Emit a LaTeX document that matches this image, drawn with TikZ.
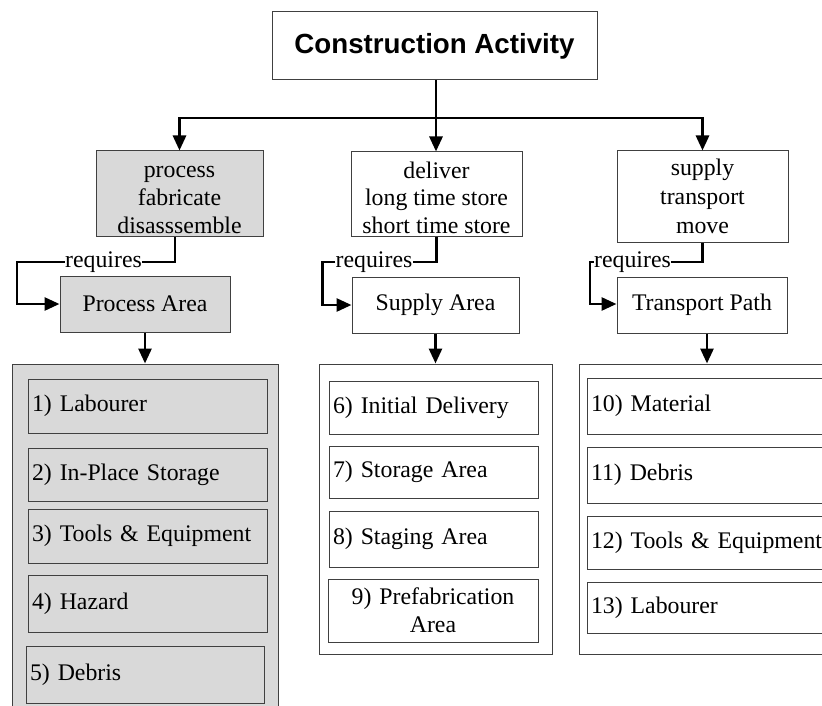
\documentclass[tikz,border=0pt]{standalone}
\usepackage{fontspec}
\setmainfont{Liberation Serif}
\newfontfamily\titlefont{Liberation Sans}
\usetikzlibrary{arrows.meta}
\definecolor{boxgray}{HTML}{D9D9D9}
\definecolor{edge}{HTML}{404040}
\begin{document}
\begin{tikzpicture}[x=1pt,y=-1pt,
  every node/.style={font=\fontsize{23.8}{27.8}\selectfont},
  box/.style={draw=edge, line width=1pt, inner sep=0pt, align=center},
  graybox/.style={box, fill=boxgray},
  itembox/.style={draw=edge, line width=1pt, inner xsep=4pt, inner ysep=0pt, align=left},
  citembox/.style={draw=edge, line width=1pt, inner xsep=4pt, inner ysep=0pt, align=center},
  conn/.style={line width=2.8pt, line join=miter},
  arr/.style={conn, -{Triangle[length=15pt,width=13pt]}},
  lbl/.style={fill=white, inner sep=0pt}]
\useasboundingbox (0,0) rectangle (822,706);
\clip (0,0) rectangle (822,706);

% title
\node[box, minimum width=325, minimum height=68, font=\titlefont\bfseries\fontsize{27.7}{30}\selectfont] (title) at (434.5,46) {Construction Activity};

% activity boxes
\node[graybox, minimum width=167, minimum height=85] (b1) at (179.5,193.5) {\rule{0pt}{24pt}process\\fabricate\\disasssemble};
\node[box, minimum width=171, minimum height=84] (b2) at (436.5,194) {\rule{0pt}{24pt}deliver\\long time store\\short time store};
\node[box, minimum width=171, minimum height=91] (b3) at (702.5,196.5) {supply\\[1.5pt]transport\\[1.5pt]move};

% area boxes
\node[graybox, minimum width=170, minimum height=56] (pa) at (145,304) {Process Area};
\node[box, minimum width=167, minimum height=56] (sa) at (435.5,305) {Supply Area};
\node[box, minimum width=170, minimum height=56] (tp) at (702,305) {Transport Path};

% requires labels
\node[lbl] (r1) at (103.5,262) {requires};
\node[lbl] (r2) at (374,262) {requires};
\node[lbl] (r3) at (632.5,262) {requires};

% containers
\node[draw=edge, line width=1pt, fill=boxgray, minimum width=266, minimum height=356, inner sep=0pt] (c1) at (145,542) {};
\node[draw=edge, line width=1pt, minimum width=233, minimum height=290, inner sep=0pt] (c2) at (435.5,509) {};
\node[draw=edge, line width=1pt, minimum width=266, minimum height=290, inner sep=0pt] (c3) at (712,509) {};

% items column 1
\node[itembox, text width=231, minimum height=54] (i1) at (147.5,406) {1) Labourer};
\node[itembox, text width=231, minimum height=53] (i2) at (147.5,474.5) {2) In-Place Storage};
\node[itembox, text width=231, minimum height=54] (i3) at (147.5,536) {3) Tools \& Equipment};
\node[itembox, text width=231, minimum height=57] (i4) at (147.5,603.5) {4) Hazard};
\node[itembox, text width=230, minimum height=57] (i5) at (145,674.5) {5) Debris};

% items column 2
\node[itembox, text width=201, minimum height=53] (i6) at (433.5,407.5) {6) Initial Delivery};
\node[itembox, text width=201, minimum height=52] (i7) at (433.5,472) {7) Storage Area};
\node[itembox, text width=201, minimum height=56] (i8) at (433.5,539) {8) Staging Area};
\node[citembox, text width=202, minimum height=63] (i9) at (433,610.5) {9) Prefabrication\\Area};

% items column 3
\node[itembox, text width=240, minimum height=56] (i10) at (711,406) {10) Material};
\node[itembox, text width=240, minimum height=56] (i11) at (711,475) {11) Debris};
\node[itembox, text width=240, minimum height=53] (i12) at (711,542.5) {12) Tools \& Equipment};
\node[itembox, text width=240, minimum height=51] (i13) at (711,607.5) {13) Labourer};

% tree connectors
\coordinate (j) at (436,118);
\draw[conn] (title.south -| j) -- (j);
\draw[arr] (j) -| (b1.north);
\draw[arr] (j) -- (j |- b2.north);
\draw[arr] (j) -| (b3.north);

% requires connectors
\draw[conn] ([xshift=-4.5]b1.south) |- (r1.east);
\draw[arr] (r1.west) -- ++(-48,0) |- (pa.west);
\draw[conn] (b2.south) |- (r2.east);
\draw[arr] (r2.west) -- ++(-13,0) |- (sa.west);
\draw[conn] (b3.south) |- (r3.east);
\draw[arr] (r3.west) -- ++(-4,0) |- ([yshift=1]tp.west);

% down arrows to containers
\draw[arr] (pa.south) -- (pa.south |- c1.north);
\draw[arr] (sa.south) -- (sa.south |- c2.north);
\draw[arr] ([xshift=5]tp.south) -- ([xshift=5]tp.south |- c3.north);
\end{tikzpicture}
\end{document}
